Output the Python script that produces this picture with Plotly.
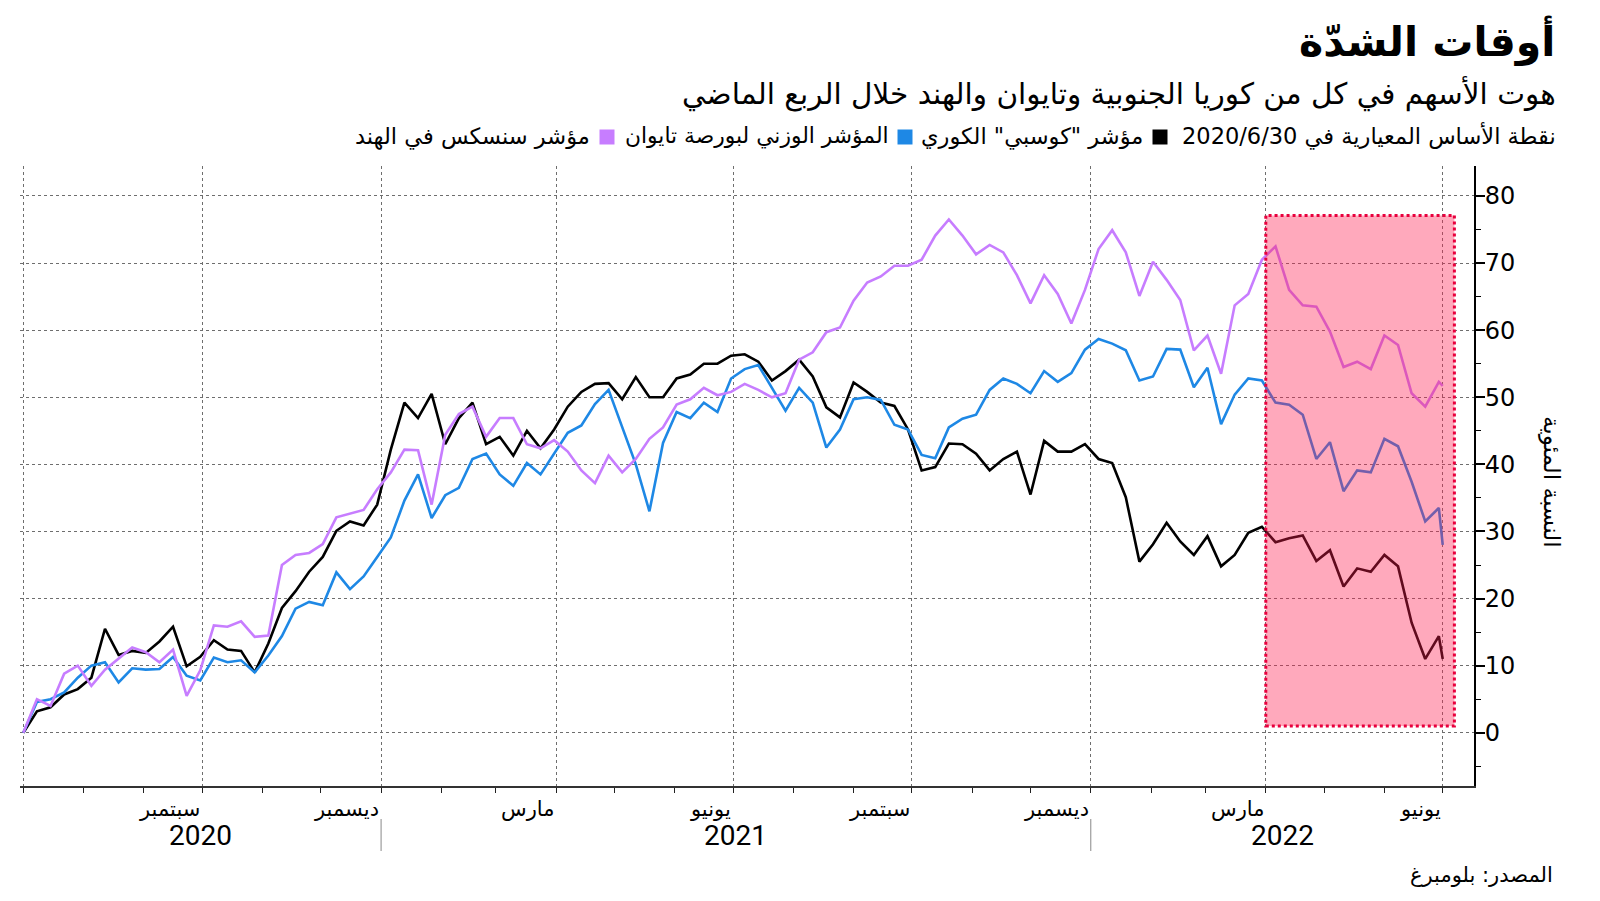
import pandas as pd
import plotly.graph_objects as go

# ---------------- data (percent change since 2020-06-30) ----------------
dates = [d.strftime("%Y-%m-%d") for d in pd.date_range("2020-06-30", "2022-06-28", freq="7D")] + ["2022-06-30"]

kospi = [0, 3.2, 3.8, 5.7, 6.5, 8.2, 15.5, 11.6, 12.2, 11.9, 13.6, 15.8, 9.9, 11.3, 13.8, 12.4, 12.2, 9.0,
         13.3, 18.6, 21.1, 24.0, 26.2, 30.1, 31.5, 30.9, 34.0, 42.2, 49.2, 46.9, 50.5, 43.0, 46.9, 49.2, 43.0,
         44.1, 41.3, 45.0, 42.4, 45.2, 48.6, 50.8, 52.0, 52.1, 49.7, 53.0, 50.0, 50.0, 52.8, 53.4, 55.0, 55.0,
         56.2, 56.4, 55.3, 52.5, 53.9, 55.6, 53.1, 48.5, 47.0, 52.2, 50.8, 49.2, 48.7, 45.2, 39.1, 39.6, 43.1,
         43.0, 41.6, 39.1, 40.8, 41.9, 35.5, 43.5, 41.9, 41.9, 43.0, 40.8, 40.2, 35.1, 25.5, 28.1, 31.3, 28.5,
         26.5, 29.3, 24.8, 26.5, 29.8, 30.7, 28.4, 29.0, 29.4, 25.6, 27.2, 21.8, 24.5, 24.0, 26.5, 24.8, 16.4,
         11.0, 14.4, 11.0]

taiex = [0, 4.6, 5.0, 6.0, 8.2, 10.0, 10.5, 7.5, 9.6, 9.4, 9.5, 11.3, 8.5, 7.8, 11.2, 10.5, 10.8, 9.0,
         11.5, 14.4, 18.5, 19.5, 19.0, 23.9, 21.4, 23.3, 26.2, 29.1, 34.6, 38.5, 32.0, 35.4, 36.5, 40.8, 41.6,
         38.5, 36.8, 40.2, 38.5, 41.6, 44.7, 45.8, 49.0, 51.1, 45.5, 40.0, 33.0, 43.2, 47.8, 46.9, 49.2, 47.8,
         52.8, 54.2, 54.8, 51.4, 48.0, 51.4, 49.2, 42.5, 45.2, 49.7, 50.0, 49.6, 45.9, 45.2, 41.4, 40.9, 45.5,
         46.8, 47.4, 51.1, 52.8, 52.0, 50.6, 53.9, 52.3, 53.6, 57.1, 58.7, 58.0, 57.0, 52.5, 53.1, 57.2, 57.1,
         51.5, 54.4, 46.0, 50.4, 52.8, 52.5, 49.2, 48.9, 47.4, 40.8, 43.3, 36.0, 39.1, 38.8, 43.8, 42.7, 37.4,
         31.5, 33.5, 28.0]

sensex = [0, 5.0, 4.0, 8.8, 10.0, 7.0, 9.4, 11.0, 12.7, 12.0, 10.5, 12.4, 5.5, 9.3, 16.0, 15.8, 16.6, 14.3,
          14.5, 25.0, 26.5, 26.8, 28.1, 32.1, 32.6, 33.2, 36.3, 38.8, 42.2, 42.1, 34.0, 44.4, 47.5, 48.6, 44.1,
          46.9, 46.9, 43.0, 42.4, 43.6, 41.9, 39.1, 37.2, 41.3, 38.8, 40.8, 43.8, 45.5, 48.9, 49.7, 51.4, 50.3,
          50.8, 52.0, 51.1, 50.0, 50.6, 55.6, 56.7, 59.7, 60.4, 64.4, 67.1, 68.0, 69.6, 69.6, 70.5, 74.1, 76.5,
          74.1, 71.3, 72.7, 71.6, 68.2, 64.0, 68.2, 65.4, 61.0, 66.0, 72.1, 74.9, 71.6, 65.1, 70.2, 67.5, 64.5,
          57.0, 59.2, 53.5, 63.7, 65.4, 70.5, 72.5, 66.0, 63.7, 63.5, 59.8, 54.5, 55.3, 54.2, 59.2, 57.8, 50.6,
          48.6, 52.3, 51.7]

series_names = ['مؤشر "كوسبي" الكوري', "المؤشر الوزني لبورصة تايوان", "مؤشر سنسكس في الهند"]
series_values = [kospi, taiex, sensex]
series_colors = ["#000000", "#1e88e5", "#c77dff"]

title_text = "أوقات الشدّة"
subtitle_text = "هوت الأسهم في كل من كوريا الجنوبية وتايوان والهند خلال الربع الماضي"
legend_prefix = "نقطة الأساس المعيارية في 2020/6/30"
y_title = "النسبة المئوية"
source_text = "المصدر: بلومبرغ"

y_ticks = [0, 10, 20, 30, 40, 50, 60, 70, 80]
month_ends = [(pd.Timestamp("2020-06-01") + pd.DateOffset(months=i) + pd.offsets.MonthEnd(0)).strftime("%Y-%m-%d")
              for i in range(25)]
quarter_ends = month_ends[::3]
quarter_labels = ["سبتمبر", "ديسمبر", "مارس", "يونيو", "سبتمبر", "ديسمبر", "مارس", "يونيو"]
year_labels = ["2020", "2021", "2022"]
year_bounds = ["2020-06-28 07:00", "2020-12-31", "2021-12-31", "2022-07-16 02:00"]

highlight = dict(x0="2022-03-31", x1="2022-07-06", y0=1.0, y1=77.1)

# ---------------- layout geometry ----------------
W, H = 1600, 901
ML, MR, MT, MB = 20, 126, 166, 115
PW, PH = W - ML - MR, H - MT - MB


def px_x(px):
    return (px - ML) / PW


def px_y(py):
    return (H - MB - py) / PH


AR = "DejaVu Sans, Noto Sans, sans-serif"
RLE, PDF = "\u202b", "\u202c"

fig = go.Figure()
for name, vals, col in zip(series_names, series_values, series_colors):
    fig.add_trace(go.Scatter(x=dates, y=vals, mode="lines", name=name,
                             line=dict(color=col, width=2.6), showlegend=False))

fig.update_layout(
    width=W, height=H, margin=dict(l=ML, r=MR, t=MT, b=MB),
    paper_bgcolor="white", plot_bgcolor="white",
    font=dict(family=AR, color="black"),
    xaxis=dict(type="date", range=[year_bounds[0], year_bounds[-1]],
               tickvals=quarter_ends, showticklabels=False,
               ticks="outside", ticklen=5, tickwidth=1, tickcolor="#222",
               showgrid=True, gridcolor="#6e6e6e", gridwidth=1, griddash="dot",
               minor=dict(tickvals=month_ends, ticks="outside", ticklen=5, tickwidth=1,
                          tickcolor="#222", showgrid=False),
               showline=True, linecolor="#333", linewidth=2, zeroline=False),
    yaxis=dict(side="right", range=[-7.94, 84.47], tickvals=y_ticks,
               ticks="outside", ticklen=9, tickwidth=2, tickcolor="black",
               ticklabelstandoff=-5,
               tickfont=dict(family="DejaVu Sans", size=24, color="black"),
               showgrid=True, gridcolor="#6e6e6e", gridwidth=1, griddash="dot",
               minor=dict(dtick=5, tick0=0, ticks="outside", ticklen=5, tickwidth=1,
                          tickcolor="black", showgrid=False),
               showline=True, linecolor="black", linewidth=2, zeroline=False),
)

# highlighted last quarter
fig.add_shape(type="rect", xref="x", yref="y", layer="above",
              fillcolor="rgba(255,30,80,0.38)",
              line=dict(color="#e8003d", width=3, dash="dot"), **highlight)

anns = []
# titles
anns.append(dict(text=f"<b>{title_text}</b>", x=px_x(1557), y=px_y(41), xref="paper", yref="paper",
                 xanchor="right", yanchor="middle", showarrow=False, font=dict(size=41, family=AR)))
anns.append(dict(text=subtitle_text, x=px_x(1558), y=px_y(93), xref="paper", yref="paper",
                 xanchor="right", yanchor="middle", showarrow=False, font=dict(size=29.5, family=AR)))
# legend
anns.append(dict(text=RLE + legend_prefix + PDF, x=px_x(1558), y=px_y(136), xref="paper", yref="paper",
                 xanchor="right", yanchor="middle", showarrow=False, font=dict(size=22.5, family=AR)))
legend_text_right = [1145, 891, 592]
legend_text_size = [22.5, 21.8, 22.5]
legend_square_center = [1160, 905, 607]
for name, col, tr, fs, sc in zip(series_names, series_colors, legend_text_right, legend_text_size,
                                 legend_square_center):
    anns.append(dict(text=RLE + name + PDF, x=px_x(tr), y=px_y(136), xref="paper", yref="paper",
                     xanchor="right", yanchor="middle", showarrow=False, font=dict(size=fs, family=AR)))
    fig.add_shape(type="rect", xref="paper", yref="paper", x0=px_x(sc - 7.5), x1=px_x(sc + 7.5),
                  y0=px_y(144.5), y1=px_y(129.5), fillcolor=col, line=dict(width=0))
# month labels (right-aligned at quarter end)
for d, lab in zip(quarter_ends[1:], quarter_labels):
    anns.append(dict(text=lab, x=d, y=px_y(809), xref="x", yref="paper", xanchor="right",
                     yanchor="middle", showarrow=False, font=dict(size=21, family=AR)))
# year labels centred on visible span
for i, lab in enumerate(year_labels):
    a, b = pd.Timestamp(year_bounds[i]), pd.Timestamp(year_bounds[i + 1])
    mid = (a + (b - a) / 2).strftime("%Y-%m-%d %H:%M")
    anns.append(dict(text=lab, x=mid, y=px_y(835), xref="x", yref="paper", xanchor="center",
                     yanchor="middle", showarrow=False, font=dict(size=28, family="Roboto, DejaVu Sans")))
for d in year_bounds[1:-1]:
    fig.add_shape(type="line", xref="x", yref="paper", x0=d, x1=d, y0=px_y(819), y1=px_y(851),
                  line=dict(color="#888", width=1))
# y-axis title
anns.append(dict(text=y_title, x=px_x(1552), y=px_y(482), xref="paper", yref="paper", textangle=90,
                 xanchor="center", yanchor="middle", showarrow=False, font=dict(size=23, family=AR)))
# source
anns.append(dict(text=source_text, x=px_x(1555), y=px_y(875), xref="paper", yref="paper",
                 xanchor="right", yanchor="middle", showarrow=False, font=dict(size=21, family=AR)))
fig.update_layout(annotations=anns)

fig.write_html("out.html")
